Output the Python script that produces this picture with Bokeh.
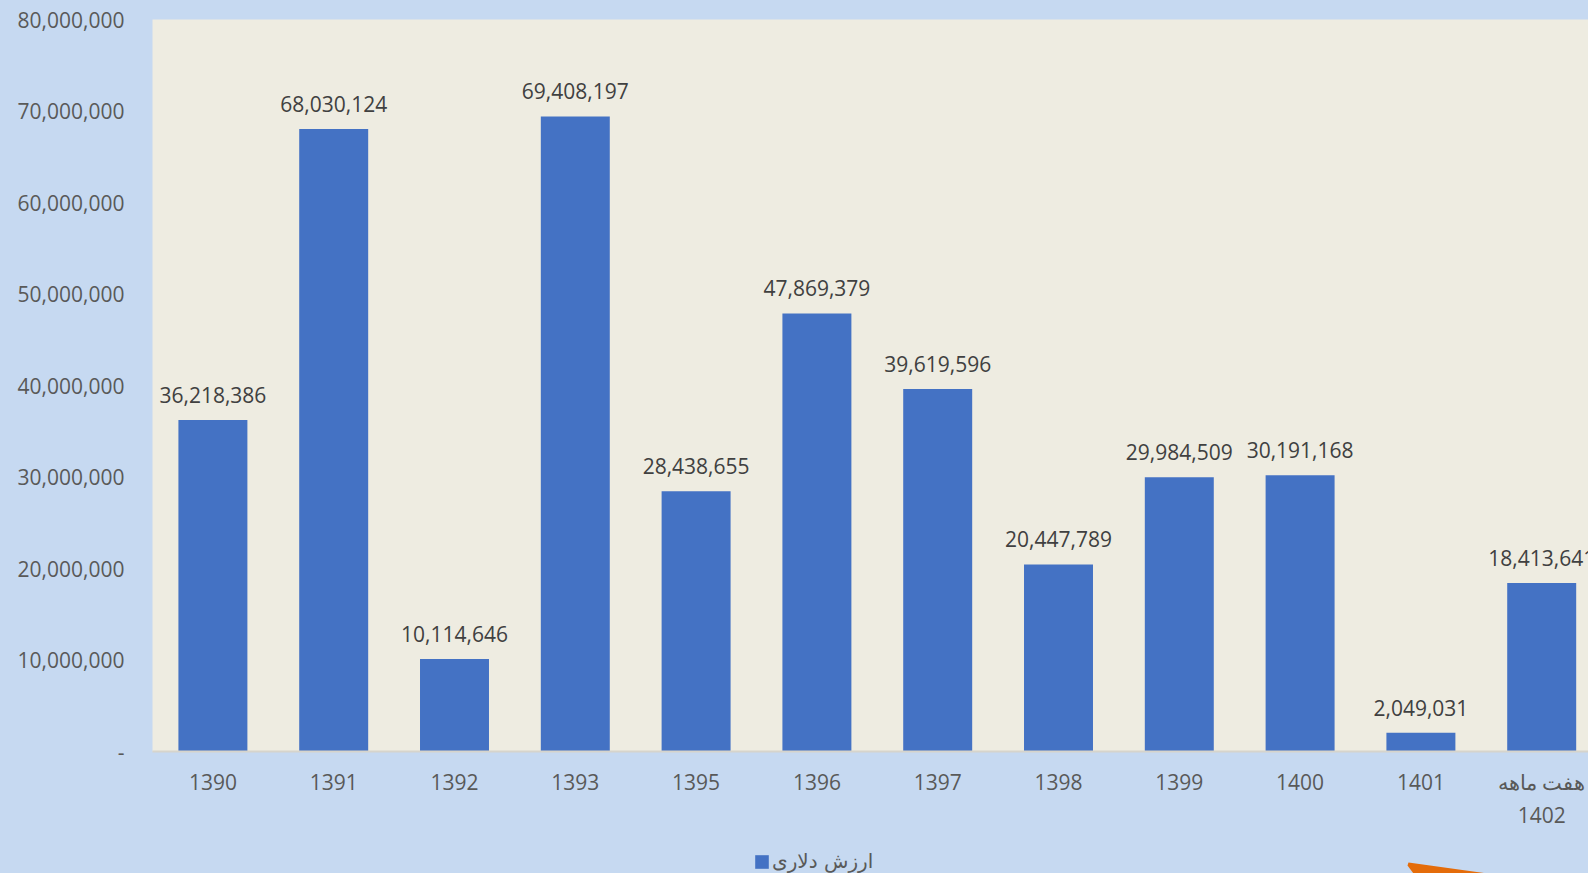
from bokeh.plotting import figure
from bokeh.layouts import column
from bokeh.models import (Range1d, FixedTicker, NumeralTickFormatter, Legend, LegendItem)
from bokeh.core.properties import value
from bokeh.embed import file_html
from bokeh.resources import INLINE

# ---- data ----
categories = ["1390", "1391", "1392", "1393", "1395", "1396", "1397", "1398",
              "1399", "1400", "1401", "هفت ماهه\n1402"]
values = [36218386, 68030124, 10114646, 69408197, 28438655, 47869379, 39619596,
          20447789, 29984509, 30191168, 2049031, 18413641]
series_name = "ارزش دلاری"
y_ticks = [0, 10000000, 20000000, 30000000, 40000000, 50000000, 60000000, 70000000, 80000000]

OUTER = "#C6D9F1"
INNER = "#EEECE1"
BAR = "#4472C4"
AXIS_TXT = "#595959"
FONT = "Open Sans"

W = 1588
H1, H2 = 840, 33          # main chart + legend strip = 873
LEFT, TOP = 152, 19
FRAME_BOTTOM = 751
frame_w = W - LEFT
cat_px = 120.8
x_end = -0.5 + frame_w / cat_px

idx = list(range(len(categories)))

p = figure(width=W, height=H1, output_backend="svg", toolbar_location=None,
           x_range=Range1d(-0.5, x_end), y_range=Range1d(0, y_ticks[-1]),
           min_border_left=LEFT, min_border_top=TOP, min_border_right=0,
           min_border_bottom=H1 - FRAME_BOTTOM)
p.background_fill_color = INNER
p.border_fill_color = OUTER
p.outline_line_color = None
p.xgrid.visible = False
p.ygrid.visible = False

bars = p.vbar(x=idx, top=values, width=0.571, fill_color=BAR, line_color=None)

labels = [f"{v:,}" for v in values]
p.text(x=idx, y=values, text=labels, text_font=value(FONT), text_font_size="21px",
       text_color="#404040", text_align="center", text_baseline="alphabetic",
       y_offset=-25)

# y axis
p.yaxis.ticker = FixedTicker(ticks=y_ticks)
p.yaxis.formatter = NumeralTickFormatter(format="0,0")
p.yaxis.major_label_overrides = {0: "-"}
p.yaxis.axis_line_color = None
p.yaxis.major_tick_line_color = None
p.yaxis.minor_tick_line_color = None
p.yaxis.major_label_standoff = 22
p.yaxis.major_label_text_font = FONT
p.yaxis.major_label_text_font_size = "21px"
p.yaxis.major_label_text_color = AXIS_TXT

# x axis
p.xaxis.ticker = FixedTicker(ticks=idx)
p.xaxis.major_label_overrides = {i: c for i, c in zip(idx, categories)}
p.xaxis.axis_line_color = "#D6D4CC"
p.xaxis.axis_line_width = 2
p.xaxis.major_tick_line_color = None
p.xaxis.minor_tick_line_color = None
p.xaxis.major_label_standoff = 10
p.xaxis.major_label_text_font = FONT
p.xaxis.major_label_text_font_size = "21px"
p.xaxis.major_label_text_color = AXIS_TXT

# ---- legend strip (pixel coordinates; frame aligned with the chart's frame) ----
p2 = figure(width=W, height=H2, output_backend="svg", toolbar_location=None,
            x_range=Range1d(LEFT, W), y_range=Range1d(H1 + H2, H1),
            min_border_left=LEFT, min_border_right=0, min_border_top=0,
            min_border_bottom=0, x_axis_type=None, y_axis_type=None)
p2.background_fill_color = OUTER
p2.border_fill_color = OUTER
p2.outline_line_color = None
p2.xgrid.visible = False
p2.ygrid.visible = False

proxy = p2.vbar(x=[-1000], top=[H1], bottom=[H1], width=1, fill_color=BAR, line_color=None)
legend = Legend(items=[LegendItem(label=series_name, renderers=[proxy])],
                location=(753 - LEFT, 0), orientation="horizontal",
                glyph_width=17, glyph_height=17, label_standoff=2,
                padding=0, margin=0, spacing=0,
                border_line_color=None, background_fill_alpha=0,
                label_text_font="DejaVu Sans", label_text_font_size="20px",
                label_text_color=AXIS_TXT)
p2.add_layout(legend, "center")

# decorative orange arrow fragment at bottom right (pixel coords)
arrow_x = [1408, 1487, 1413, 1407]
arrow_y = [862, 873, 873, 865]
p2.patch(arrow_x, arrow_y, fill_color="#E46C0A", line_color=None)

layout = column(p, p2, spacing=0)
html = file_html(layout, INLINE)
html = html.replace("</head>", "<style>body{background:%s;}</style></head>" % OUTER, 1)
open("out.html", "w").write(html)
